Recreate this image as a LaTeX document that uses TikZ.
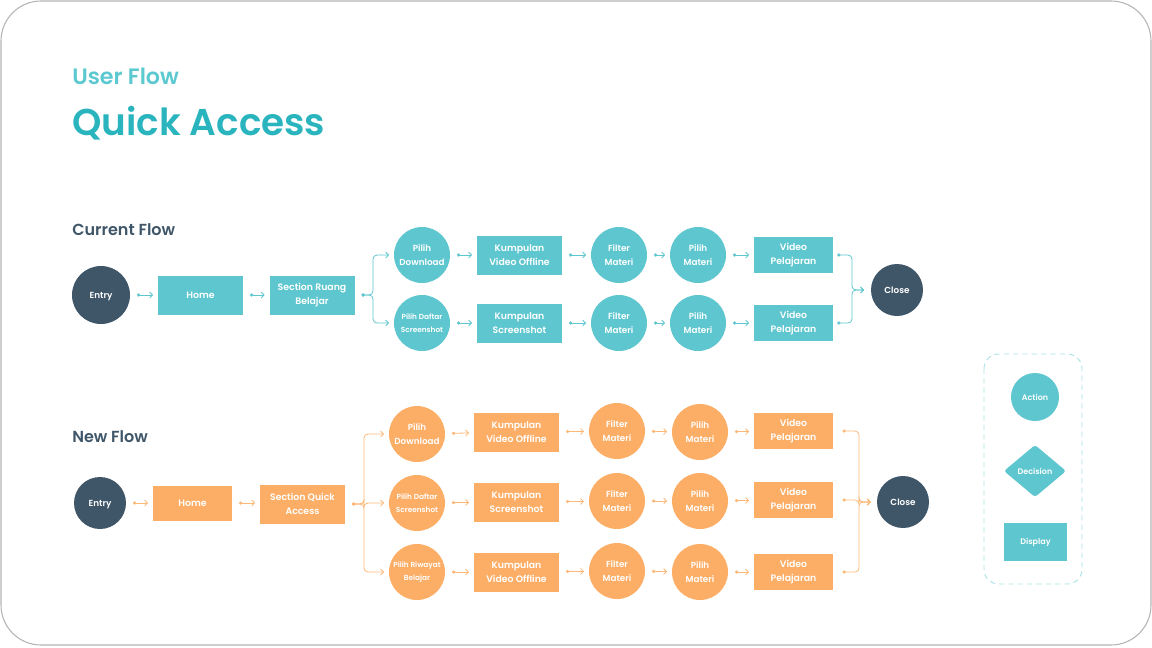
\documentclass[tikz,border=0pt]{standalone}
\usepackage{fontspec}
\setmainfont{Poppins}[BoldFont=* SemiBold]
\usetikzlibrary{arrows.meta,calc}
\definecolor{cTeal}{HTML}{5EC6CF}
\definecolor{cTitle}{HTML}{2AB4BE}
\definecolor{cSub}{HTML}{5CC9D1}
\definecolor{cDark}{HTML}{3F5669}
\definecolor{cOrange}{HTML}{FDAE66}
\definecolor{cOrangeLine}{HTML}{FDB878}
\definecolor{cFrame}{HTML}{B4B4B4}
\definecolor{cLegend}{HTML}{A9E1E5}
\begin{document}
\begin{tikzpicture}[x=0.75pt,y=-0.75pt,
  every node/.style={inner sep=0pt, align=center, text=white},
  txt/.style={font=\bfseries\fontsize{7}{10.5}\selectfont},
  ctxt/.style={font=\bfseries\fontsize{6.6}{10.5}\selectfont},
  stxt/.style={font=\bfseries\fontsize{5.5}{9.5}\selectfont},
  tact/.style={circle, fill=cTeal, minimum size=42pt, ctxt},
  oact/.style={circle, fill=cOrange, minimum size=42pt, ctxt},
  term/.style={circle, fill=cDark, minimum size=42pt, ctxt},
  tbox/.style={rectangle, fill=cTeal, minimum width=63.75pt, minimum height=29.25pt, txt},
  obox/.style={rectangle, fill=cOrange, minimum width=63.75pt, minimum height=29.25pt, txt},
  conn/.style={line width=0.6pt, {Circle[length=2.4pt]}-{Straight Barb[length=2.2pt,width=4.5pt]},
     shorten <=5pt, shorten >=3.5pt, rounded corners=3pt},
  tc/.style={conn, draw=cTeal},
  oc/.style={conn, draw=cOrangeLine},
  heading/.style={anchor=base west, text=cDark, font=\bfseries\fontsize{12}{14}\selectfont}
]
\useasboundingbox (0,0) rectangle (1152,647);
\draw[cFrame, line width=0.8pt, rounded corners=30pt] (1,1) rectangle (1151,645);

% titles
\node[anchor=base west, text=cSub, font=\bfseries\fontsize{16.7}{18}\selectfont] (t1) at (72,84) {User Flow};
\node[anchor=base west, text=cTitle, font=\bfseries\fontsize{28}{30}\selectfont] (t2) at (72,135) {Quick Access};
\node[heading] (h1) at (72,235) {Current Flow};
\node[heading] (h2) at (72,442) {New Flow};

% ---------------- Current flow ----------------
\node[term, minimum size=43.5pt, text depth=0pt] (ce) at (101,295) {Entry};
\node[tbox] (ch) at (200.5,295) {Home};
\node[tbox] (cs) at (312,295) {Section Ruang\\Belajar};
\node[tact] (cpd) at (422,255) {Pilih\\Download};
\node[tact, stxt] (cps) at (422,323) {Pilih Daftar\\Screenshot};
\node[tbox] (ck1) at (519.5,255) {Kumpulan\\Video Offline};
\node[tbox] (ck2) at (519.5,323) {Kumpulan\\Screenshot};
\node[tact] (cf1) at (619,255) {Filter\\Materi};
\node[tact] (cf2) at (619,323) {Filter\\Materi};
\node[tact] (cm1) at (698,255) {Pilih\\Materi};
\node[tact] (cm2) at (698,323) {Pilih\\Materi};
\node[tbox, minimum width=59.25pt, minimum height=27pt] (cv1) at (793.5,255) {Video\\Pelajaran};
\node[tbox, minimum width=59.25pt, minimum height=27pt] (cv2) at (793.5,323) {Video\\Pelajaran};
\node[term, minimum size=39pt] (cc) at (897,290) {Close};

\coordinate (cb) at (373,295);
\coordinate (cmg) at (852,290);
\draw[tc] (ce) -- (ch);
\draw[tc] (ch) -- (cs);
\draw[tc] (cs) -- (cb) |- (cpd.west);
\draw[tc] (cs) -- (cb) |- (cps.west);
\draw[tc] (cpd) -- (ck1);
\draw[tc] (cps) -- (ck2);
\draw[tc] (ck1) -- (cf1);
\draw[tc] (ck2) -- (cf2);
\draw[tc] (cf1) -- (cm1);
\draw[tc] (cf2) -- (cm2);
\draw[tc] (cm1) -- (cv1);
\draw[tc] (cm2) -- (cv2);
\draw[tc, shorten <=3pt, shorten >=5pt] (cv1.east) -| (cmg) -- (cc.west);
\draw[tc, shorten <=3pt, shorten >=5pt] (cv2.east) -| (cmg) -- (cc.west);

% ---------------- New flow ----------------
\node[term, minimum size=39pt, text depth=0pt] (ne) at (100,503) {Entry};
\node[obox, minimum width=59.25pt, minimum height=26.25pt] (nh) at (192.5,503) {Home};
\node[obox] (ns) at (302.5,504) {Section Quick\\Access};
\node[oact] (npd) at (417,434) {Pilih\\Download};
\node[oact, stxt] (nps) at (417,503) {Pilih Daftar\\Screenshot};
\node[oact, stxt] (npr) at (417,572) {Pilih Riwayat\\Belajar};
\node[obox] (nk1) at (516.5,432) {Kumpulan\\Video Offline};
\node[obox] (nk2) at (516.5,502) {Kumpulan\\Screenshot};
\node[obox] (nk3) at (516.5,572) {Kumpulan\\Video Offline};
\node[oact] (nf1) at (617,431) {Filter\\Materi};
\node[oact] (nf2) at (617,501) {Filter\\Materi};
\node[oact] (nf3) at (617,571) {Filter\\Materi};
\node[oact] (nm1) at (700,432) {Pilih\\Materi};
\node[oact] (nm2) at (700,501) {Pilih\\Materi};
\node[oact] (nm3) at (700,572) {Pilih\\Materi};
\node[obox, minimum width=59.25pt, minimum height=27pt] (nv1) at (793.5,431) {Video\\Pelajaran};
\node[obox, minimum width=59.25pt, minimum height=27pt] (nv2) at (793.5,500) {Video\\Pelajaran};
\node[obox, minimum width=59.25pt, minimum height=27pt] (nv3) at (793.5,572) {Video\\Pelajaran};
\node[term, minimum size=39pt] (nc) at (903,502) {Close};

\coordinate (nb) at (364,504);
\coordinate (nmg) at (859,502);
\draw[oc] (ne) -- (nh);
\draw[oc] (nh.east) -- (nh.east -| ns.west);
\draw[oc] (ns) -- (nb) |- (npd.west);
\draw[oc] (ns) -- (nb) |- (nps.west);
\draw[oc] (ns) -- (nb) |- (npr.west);
\draw[oc] (npd) -- (nk1);
\draw[oc] (nps) -- (nk2);
\draw[oc] (npr) -- (nk3);
\draw[oc] (nk1) -- (nf1);
\draw[oc] (nk2) -- (nf2);
\draw[oc] (nk3) -- (nf3);
\draw[oc] (nf1) -- (nm1);
\draw[oc] (nf2) -- (nm2);
\draw[oc] (nf3) -- (nm3);
\draw[oc] (nm1) -- (nv1);
\draw[oc] (nm2) -- (nv2);
\draw[oc] (nm3) -- (nv3);
\draw[oc, shorten <=7pt, shorten >=4.5pt] (nv1.east) -| (nmg) -- (nc.west);
\draw[oc, shorten <=7pt, shorten >=4.5pt] (nv2.east) -| (nmg) -- (nc.west);
\draw[oc, shorten <=7pt, shorten >=4.5pt] (nv3.east) -| (nmg) -- (nc.west);

% ---------------- Legend ----------------
\draw[cLegend, line width=0.7pt, dash pattern=on 4pt off 3pt, rounded corners=11pt] (984,354) rectangle (1082,584);
\node[tact, minimum size=36pt, font=\bfseries\fontsize{6}{8}\selectfont] (la) at (1035,397) {Action};
\fill[cTeal, rounded corners=2pt] (1004,471) -- (1035,445) -- (1066,471) -- (1035,497) -- cycle;
\node[font=\bfseries\fontsize{6}{8}\selectfont] (ld) at (1035,471) {Decision};
\node[tbox, minimum width=47.25pt, minimum height=28.5pt, font=\bfseries\fontsize{6}{8}\selectfont] (lp) at (1035.5,542) {Display};
\end{tikzpicture}
\end{document}
